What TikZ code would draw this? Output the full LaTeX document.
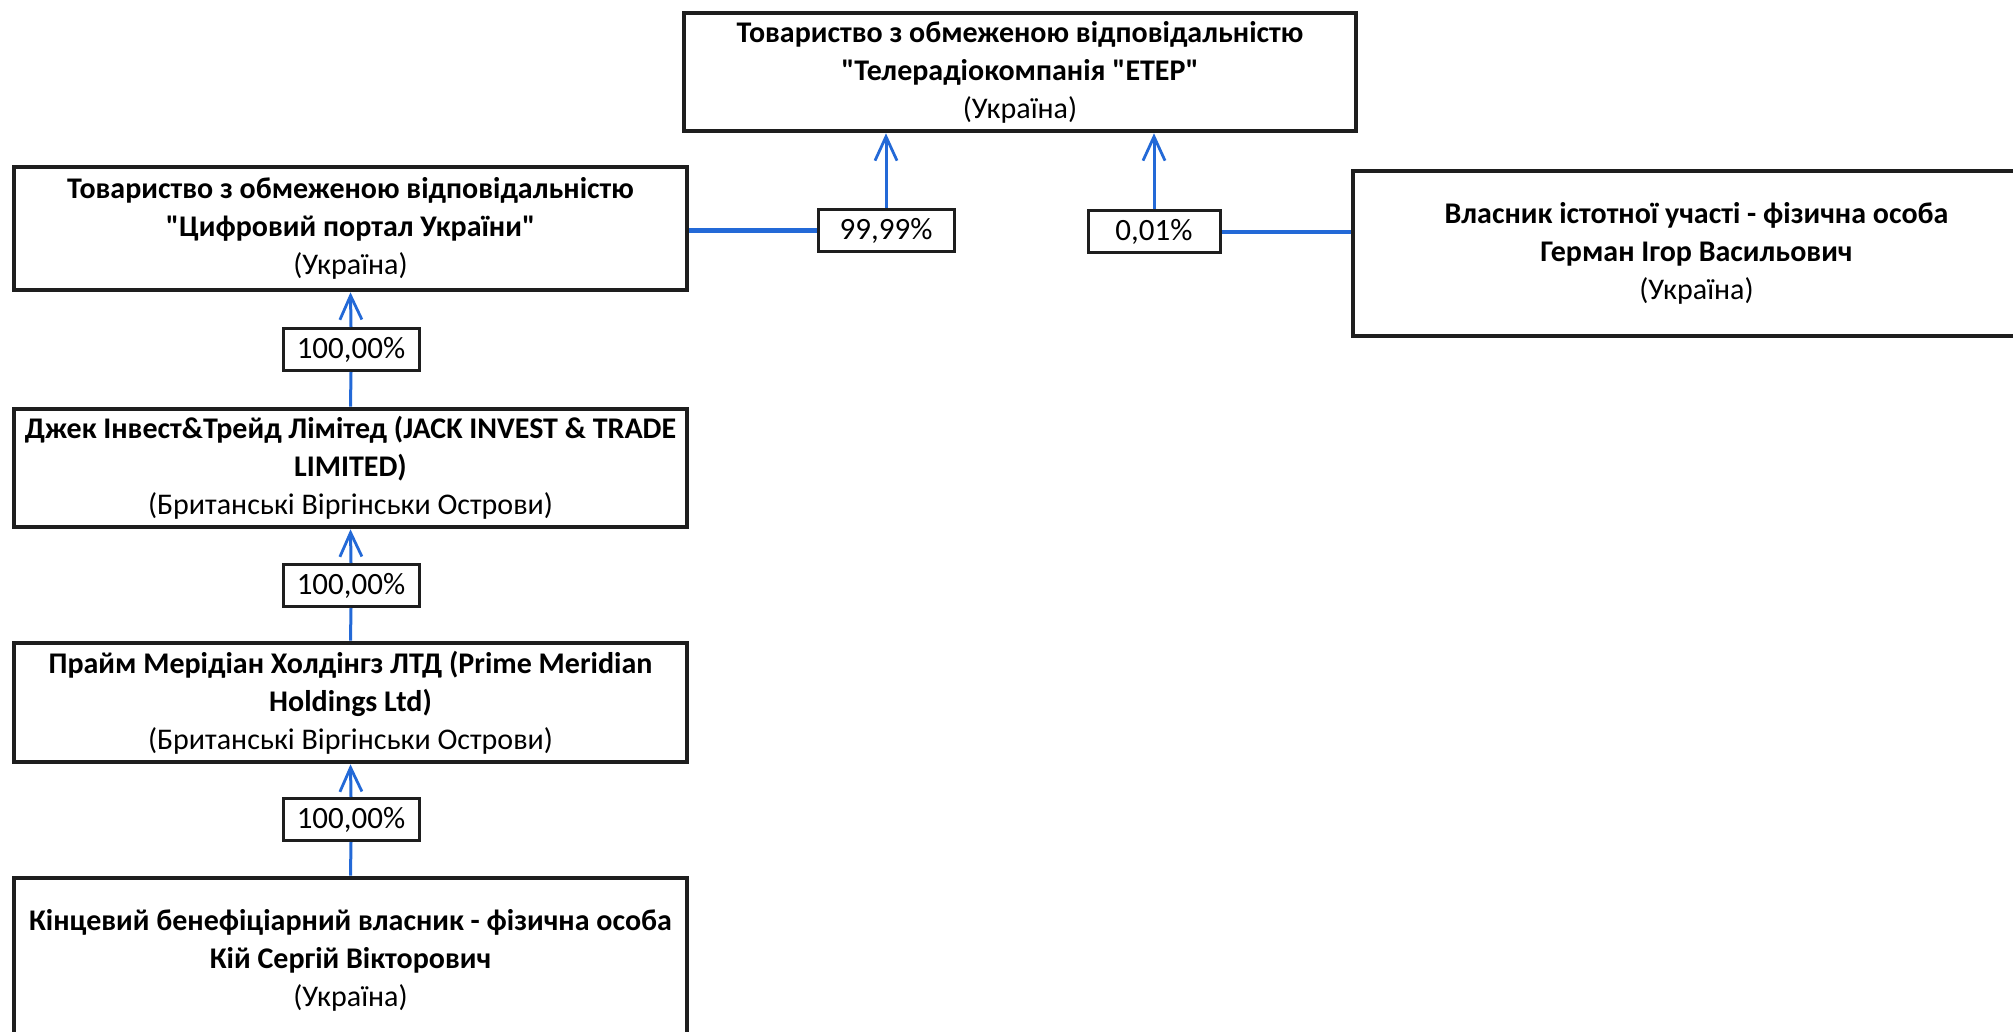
\documentclass[tikz,border=0pt]{standalone}
\usepackage{fontspec}
\setmainfont{Carlito}[Ligatures=TeXOff]
\usetikzlibrary{arrows.meta}
\definecolor{blueline}{RGB}{35,105,215}
\definecolor{boxline}{RGB}{30,30,30}
\begin{document}
\begin{tikzpicture}[x=0.5pt,y=-0.5pt,
  orgbox/.style={draw=boxline,line width=2.3pt,fill=white,align=center,inner sep=0pt,
    font=\fontsize{15}{19}\selectfont},
  pctbox/.style={draw=boxline,line width=1.5pt,fill=white,align=center,inner sep=0pt,
    minimum height=21pt,font=\fontsize{15.5}{17}\selectfont},
  link/.style={draw=blueline,line width=1.5pt},
  hlink/.style={draw=blueline,line width=2.2pt},
  arr/.style={link,-{Straight Barb[length=12pt,width=11pt,line width=1.4pt]}}]
\useasboundingbox (0,0) rectangle (2013,1032);
\clip (0,0) rectangle (2013,1032);
\fill[white] (0,0) rectangle (2013,1032);

\node[orgbox,minimum width=336pt,minimum height=59pt] (eter) at (1020,72)
  {\textbf{Товариство з обмеженою відповідальністю}\\\textbf{"Телерадіокомпанія "ЕТЕР"}\\(Україна)};
\node[orgbox,minimum width=336.5pt,minimum height=61.5pt] (cifr) at (350.5,228.5)
  {\textbf{Товариство з обмеженою відповідальністю}\\\textbf{"Цифровий портал України"}\\(Україна)};
\node[orgbox,minimum width=343.5pt,minimum height=82.5pt] (vlas) at (1696.5,253.5)
  {\textbf{Власник істотної участі - фізична особа}\\\textbf{Герман Ігор Васильович}\\(Україна)};
\node[orgbox,minimum width=336.5pt,minimum height=59pt] (jack) at (350.5,468)
  {\textbf{Джек Інвест\&Трейд Лімітед (JACK INVEST \& TRADE}\\\textbf{LIMITED)}\\(Британські Віргінськи Острови)};
\node[orgbox,minimum width=336.5pt,minimum height=59.5pt] (prime) at (350.5,702.5)
  {\textbf{Прайм Мерідіан Холдінгз ЛТД (Prime Meridian}\\\textbf{Holdings Ltd)}\\(Британські Віргінськи Острови)};
\node[orgbox,minimum width=336.5pt,minimum height=82pt] (kin) at (350.5,960)
  {\textbf{Кінцевий бенефіціарний власник - фізична особа}\\\textbf{Кій Сергій Вікторович}\\(Україна)};

\node[pctbox,minimum width=68pt] (p9999) at (886,230.5) {99,99\%};
\node[pctbox,minimum width=66pt] (p001) at (1154,232) {0,01\%};
\node[pctbox,minimum width=68pt] (p1) at (351,349.5) {100,00\%};
\node[pctbox,minimum width=68pt] (p2) at (351,585.5) {100,00\%};
\node[pctbox,minimum width=68pt] (p3) at (351,819.5) {100,00\%};

\draw[hlink] (cifr.east |- p9999.west) -- (p9999.west);
\draw[arr] (p9999.north) -- (p9999.north |- eter.south);
\draw[hlink] (vlas.west |- p001.east) -- (p001.east);
\draw[arr] (p001.north) -- (p001.north |- eter.south);

\draw[link] (jack.north) -- (p1.south);
\draw[arr] (p1.north) -- (cifr.south);
\draw[link] (prime.north) -- (p2.south);
\draw[arr] (p2.north) -- (jack.south);
\draw[link] (kin.north) -- (p3.south);
\draw[arr] (p3.north) -- (prime.south);
\end{tikzpicture}
\end{document}
